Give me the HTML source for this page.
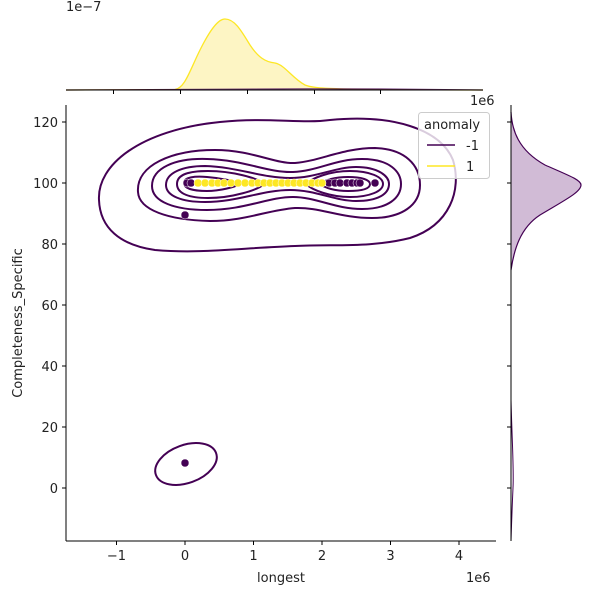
<!DOCTYPE html>
<html><head><style>body{margin:0;background:#fff}svg{display:block}text{font-family:"DejaVu Sans","Liberation Sans",sans-serif;font-size:13px;fill:#222}</style></head>
<body>
<svg width="600" height="600" viewBox="0 0 600 600">
<text x="66" y="11">1e−7</text>
<path d="M66,90 L175,89.5 C185,88 190,70 200,50 C210,30 218,19 225,19 C235,19 242,32 250,45 C258,57 265,62 275,63 C285,65 292,78 305,85 C315,89 330,89.6 483,90 Z" fill="#fdf5c4" stroke="none"/>
<path d="M66,90 L175,89.5 C185,88 190,70 200,50 C210,30 218,19 225,19 C235,19 242,32 250,45 C258,57 265,62 275,63 C285,65 292,78 305,85 C315,89 330,89.6 483,90" fill="none" stroke="#fde725" stroke-width="1.3"/>
<path d="M66,90 L150,89.6 C200,88.8 300,88.6 380,89 L483,90" fill="none" stroke="#440154" stroke-width="1.2" opacity="0.8"/>
<line x1="66" y1="90" x2="483" y2="90" stroke="#000" stroke-width="1"/>
<g stroke="#000"><line x1="113.5" y1="90" x2="113.5" y2="94"/><line x1="180.5" y1="90" x2="180.5" y2="94"/><line x1="247.5" y1="90" x2="247.5" y2="94"/><line x1="314.5" y1="90" x2="314.5" y2="94"/><line x1="380.5" y1="90" x2="380.5" y2="94"/></g>
<path d="M511,112 C512,130 518,150 545,165 C570,176 581,180 581,185 C581,192 565,200 540,215 C520,228 514,250 511,270 Z" fill="#d1bbd6"/>
<path d="M511,112 C512,130 518,150 545,165 C570,176 581,180 581,185 C581,192 565,200 540,215 C520,228 514,250 511,270" fill="none" stroke="#440154" stroke-width="1.2"/>
<path d="M511,400 C512,440 514,470 513,488 C512,510 511.5,525 511,541" fill="none" stroke="#440154" stroke-width="1"/>
<line x1="511" y1="105" x2="511" y2="541" stroke="#000"/>
<g stroke="#000"><line x1="507" y1="122" x2="511" y2="122"/><line x1="507" y1="183" x2="511" y2="183"/><line x1="507" y1="244" x2="511" y2="244"/><line x1="507" y1="305" x2="511" y2="305"/><line x1="507" y1="366" x2="511" y2="366"/><line x1="507" y1="427" x2="511" y2="427"/><line x1="507" y1="488" x2="511" y2="488"/></g>
<line x1="66" y1="105" x2="66" y2="541" stroke="#000"/>
<line x1="66" y1="541" x2="496" y2="541" stroke="#000"/>
<g stroke="#000"><line x1="116.5" y1="541" x2="116.5" y2="545"/><line x1="185" y1="541" x2="185" y2="545"/><line x1="253.5" y1="541" x2="253.5" y2="545"/><line x1="322" y1="541" x2="322" y2="545"/><line x1="390.5" y1="541" x2="390.5" y2="545"/><line x1="459" y1="541" x2="459" y2="545"/>
<line x1="62" y1="122" x2="66" y2="122"/><line x1="62" y1="183" x2="66" y2="183"/><line x1="62" y1="244" x2="66" y2="244"/><line x1="62" y1="305" x2="66" y2="305"/><line x1="62" y1="366" x2="66" y2="366"/><line x1="62" y1="427" x2="66" y2="427"/><line x1="62" y1="488" x2="66" y2="488"/></g>
<g text-anchor="middle"><text x="116.5" y="560">−1</text><text x="185" y="560">0</text><text x="253.5" y="560">1</text><text x="322" y="560">2</text><text x="390.5" y="560">3</text><text x="459" y="560">4</text></g>
<text x="281" y="582" text-anchor="middle">longest</text>
<text x="466" y="582">1e6</text>
<text x="470" y="105">1e6</text>
<g text-anchor="end"><text x="58" y="127">120</text><text x="58" y="188">100</text><text x="58" y="249">80</text><text x="58" y="310">60</text><text x="58" y="371">40</text><text x="58" y="432">20</text><text x="58" y="493">0</text></g>
<text transform="translate(22,323) rotate(-90)" text-anchor="middle">Completeness_Specific</text>
<g fill="none" stroke="#440154" stroke-width="2">
<path d="M99,200 C97,165 140,130 220,122 C270,117 300,124 330,120 C390,114 440,128 453,160 C462,190 450,225 410,238 C370,248 335,244 295,246 C240,248 200,254 155,250 C120,245 100,228 99,200 Z"/>
<path d="M138,192 C136,165 172,150 215,150 C252,150 275,164 295,163 C320,161 343,148 375,148 C405,149 420,165 420,185 C420,205 402,218 372,218 C340,218 320,207 295,208 C268,210 245,221 210,221 C168,220 139,210 138,192 Z"/>
<path d="M152,186 C152,168 175,158 207,159 C245,160 268,173 293,172 C318,171 335,159 362,159 C390,159 401,172 401,184 C401,198 388,209 362,209 C335,209 316,197 293,197 C268,197 245,210 207,210 C175,210 152,202 152,186 Z"/>
<path d="M166,185 C166,173 182,166 205,166 C238,167 262,178 290,178 C316,178 335,167 356,167 C378,167 389,176 389,184 C389,194 378,201 356,201 C335,201 316,190 290,190 C262,190 238,202 205,202 C182,202 166,196 166,185 Z"/>
<path d="M177,184 C177,174 190,171 208,171 C232,171 258,178 264,184 C258,190 232,198 208,198 C190,198 177,194 177,184 Z"/>
<path d="M306,184 C312,178 330,171 350,171 C370,171 383,177 383,184 C383,191 370,197 350,197 C330,197 312,190 306,184 Z"/>
<path d="M184,183 C184,177 195,176 207,177 C220,178 235,181 240,184 C235,187 220,191 207,191 C195,191 184,189 184,183 Z"/>
<path d="M320,184 C325,180 335,177 348,177 C362,177 370,180 370,184 C370,189 362,191 348,191 C335,191 325,188 320,184 Z"/>
<ellipse cx="186" cy="464" rx="32" ry="19" transform="rotate(-20 186 464)"/>
</g>
<g fill="#440154" stroke="#fff" stroke-width="0.5">
<circle cx="185" cy="215" r="4"/><circle cx="185" cy="463" r="4"/>
<circle cx="187" cy="183" r="4"/><circle cx="191" cy="183" r="4"/>
<circle cx="329" cy="183" r="4"/><circle cx="335" cy="183" r="4"/><circle cx="340" cy="183" r="4"/><circle cx="347" cy="183" r="4"/><circle cx="352" cy="183" r="4"/><circle cx="357" cy="183" r="4"/><circle cx="360" cy="183" r="4"/><circle cx="375" cy="183" r="4"/>
</g>
<g fill="#fde725" stroke="#fff" stroke-width="0.5">
<circle cx="198" cy="183" r="4"/><circle cx="205" cy="183" r="4"/><circle cx="212" cy="183" r="4"/><circle cx="218" cy="183" r="4"/><circle cx="224" cy="183" r="4"/><circle cx="231" cy="183" r="4"/><circle cx="238" cy="183" r="4"/><circle cx="245" cy="183" r="4"/><circle cx="252" cy="183" r="4"/><circle cx="258" cy="183" r="4"/><circle cx="264" cy="183" r="4"/><circle cx="270" cy="183" r="4"/><circle cx="276" cy="183" r="4"/><circle cx="282" cy="183" r="4"/><circle cx="288" cy="183" r="4"/><circle cx="294" cy="183" r="4"/><circle cx="300" cy="183" r="4"/><circle cx="306" cy="183" r="4"/><circle cx="312" cy="183" r="4"/><circle cx="318" cy="183" r="4"/><circle cx="322" cy="183" r="4"/>
</g>
<rect x="418.5" y="112.5" width="71" height="66" rx="3" fill="#fff" fill-opacity="0.8" stroke="#ccc"/>
<text x="424" y="129">anomaly</text>
<line x1="427" y1="145" x2="455" y2="145" stroke="#440154" stroke-width="1.5"/>
<text x="466" y="150">-1</text>
<line x1="427" y1="166" x2="455" y2="166" stroke="#fde725" stroke-width="1.5"/>
<text x="466" y="171">1</text>
</svg>
</body></html>
